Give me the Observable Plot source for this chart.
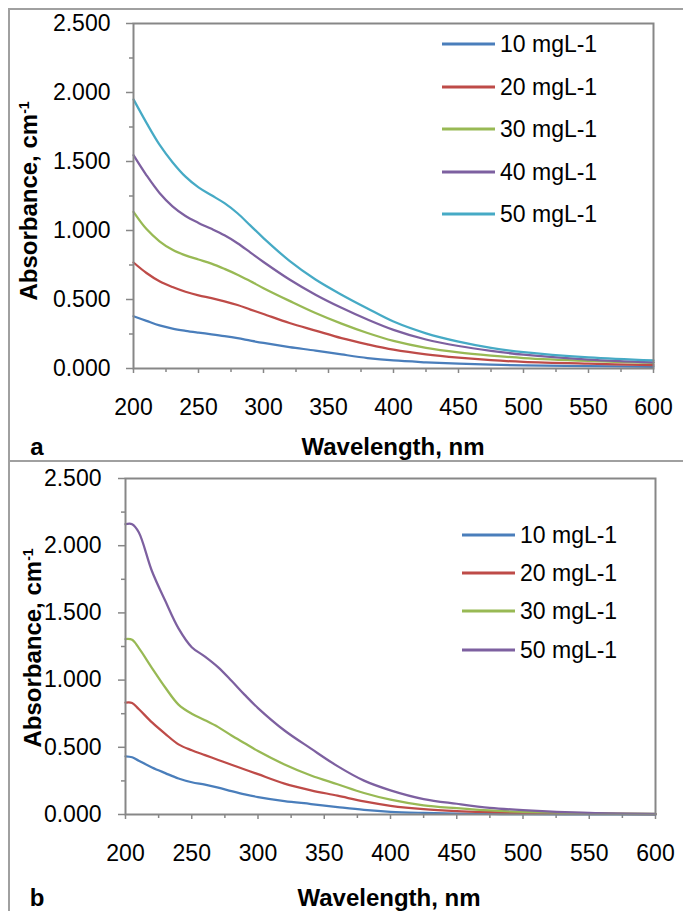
<!DOCTYPE html>
<html><head><meta charset="utf-8">
<script src="https://cdn.jsdelivr.net/npm/d3@7"></script>
<script src="https://cdn.jsdelivr.net/npm/@observablehq/plot@0.6"></script>
<style>
body{margin:0;background:#fff;font-family:"Liberation Sans",Arial,sans-serif;}
#root{position:relative;width:683px;height:911px;overflow:hidden;background:#fff;}
.hline{position:absolute;height:0;border-top:2px solid #a0a0a0;}
.vline{position:absolute;width:0;border-left:2px solid #a0a0a0;}
.leg{position:absolute;display:flex;align-items:center;font-size:23px;color:#000;white-space:nowrap;transform:translateY(-50%);}
.leg span.sw{display:inline-block;height:3px;margin-right:5px;}
.ytitle{position:absolute;font-weight:bold;font-size:24px;white-space:nowrap;transform:translate(-50%,-50%) rotate(-90deg);}
.ytitle sup{font-size:14px;vertical-align:0.6em;line-height:0;}
.xtitle{position:absolute;font-weight:bold;font-size:24px;white-space:nowrap;transform:translate(-50%,-50%);}
</style></head><body><div id="root"></div>
<script>
// ---- data ----
const seriesLabelsA = ["10 mgL-1", "20 mgL-1", "30 mgL-1", "40 mgL-1", "50 mgL-1"];
const wavelengthsA = [200, 210, 220, 230, 240, 250, 260, 270, 280, 290, 300, 320, 340, 360, 380, 400, 425, 450, 475, 500, 550, 600];
const absA10 = [0.379, 0.345, 0.312, 0.289, 0.273, 0.260, 0.248, 0.235, 0.220, 0.202, 0.185, 0.155, 0.130, 0.102, 0.076, 0.058, 0.045, 0.035, 0.028, 0.023, 0.017, 0.012];
const absA20 = [0.768, 0.692, 0.632, 0.590, 0.556, 0.530, 0.510, 0.487, 0.460, 0.427, 0.395, 0.330, 0.275, 0.220, 0.175, 0.136, 0.102, 0.078, 0.060, 0.048, 0.035, 0.025];
const absA30 = [1.135, 1.010, 0.922, 0.860, 0.820, 0.790, 0.760, 0.722, 0.680, 0.632, 0.582, 0.490, 0.402, 0.325, 0.257, 0.200, 0.150, 0.117, 0.094, 0.076, 0.055, 0.041];
const absA40 = [1.546, 1.400, 1.272, 1.175, 1.105, 1.055, 1.012, 0.965, 0.908, 0.840, 0.772, 0.645, 0.535, 0.440, 0.355, 0.280, 0.210, 0.163, 0.128, 0.100, 0.065, 0.045];
const absA50 = [1.950, 1.780, 1.622, 1.495, 1.390, 1.312, 1.255, 1.198, 1.125, 1.035, 0.945, 0.780, 0.645, 0.535, 0.435, 0.340, 0.255, 0.195, 0.150, 0.118, 0.080, 0.058];

const seriesLabelsB = ["10 mgL-1", "20 mgL-1", "30 mgL-1", "50 mgL-1"];
const wavelengthsB = [200, 205, 210, 220, 230, 240, 250, 260, 270, 280, 290, 300, 320, 340, 360, 380, 400, 425, 450, 475, 500, 550, 600];
const absB10 = [0.433, 0.426, 0.400, 0.350, 0.308, 0.268, 0.240, 0.222, 0.200, 0.174, 0.150, 0.130, 0.100, 0.078, 0.055, 0.034, 0.020, 0.012, 0.007, 0.004, 0.003, 0.001, 0.000];
const absB20 = [0.832, 0.830, 0.785, 0.685, 0.600, 0.522, 0.478, 0.442, 0.406, 0.370, 0.335, 0.300, 0.230, 0.180, 0.140, 0.097, 0.065, 0.040, 0.026, 0.018, 0.012, 0.006, 0.003];
const absB30 = [1.305, 1.300, 1.240, 1.090, 0.945, 0.818, 0.750, 0.702, 0.650, 0.588, 0.530, 0.472, 0.372, 0.290, 0.225, 0.160, 0.110, 0.068, 0.047, 0.030, 0.020, 0.010, 0.004];
const absB50 = [2.160, 2.160, 2.100, 1.810, 1.590, 1.385, 1.245, 1.175, 1.095, 0.995, 0.890, 0.792, 0.625, 0.490, 0.360, 0.252, 0.180, 0.115, 0.080, 0.050, 0.033, 0.012, 0.005];

const xTicks = [200, 250, 300, 350, 400, 450, 500, 550, 600];
const xMinorTicks = [225, 275, 325, 375, 425, 475, 525, 575];
const yTicks = [0, 0.5, 1.0, 1.5, 2.0, 2.5];
const yMinorTicks = [0.25, 0.75, 1.25, 1.75, 2.25];
const xTitle = "Wavelength, nm";
const yTitle = "Absorbance, cm";
const yTitleSup = "-1";
const panelLetters = ["a", "b"];

// ---- styles ----
const colorsA = ["#4A7EBB", "#BE4B48", "#98B954", "#7D60A0", "#46AAC5"];
const colorsB = ["#4A7EBB", "#BE4B48", "#98B954", "#7D60A0"];
const axisGray = "#878787";
const FONT = "'Liberation Sans', Arial, sans-serif";

const root = document.getElementById("root");

function makePanel(cfg) {
  const data = cfg.series.flatMap((vals, i) => vals.map((v, j) => ({nm: cfg.wl[j], a: v, s: cfg.labels[i]})));
  const chart = Plot.plot({
    width: 683, height: cfg.height,
    marginLeft: cfg.ml, marginRight: cfg.mr, marginTop: cfg.mt, marginBottom: cfg.mb,
    style: {fontFamily: FONT, fontSize: "23px", color: "#000", background: "transparent", overflow: "visible"},
    x: {domain: [200, 600]},
    y: {domain: [0, 2.5]},
    color: {domain: cfg.labels, range: cfg.colors},
    marks: [
      Plot.axisX({ticks: xMinorTicks, tickSize: 4, tickFormat: () => "", stroke: axisGray, strokeWidth: 1.5, label: null}),
      Plot.axisX({ticks: xTicks, tickSize: 5, tickPadding: 25, stroke: axisGray, strokeWidth: 1.5, fill: "#000", fontSize: 23, label: null, tickFormat: d3.format("d")}),
      Plot.axisY({ticks: yMinorTicks, tickSize: 4, tickFormat: () => "", stroke: axisGray, strokeWidth: 1.5, label: null}),
      Plot.axisY({ticks: yTicks, tickSize: 7, tickPadding: cfg.yPad, stroke: axisGray, strokeWidth: 1.5, fill: "#000", fontSize: 23, label: null, tickFormat: d3.format(".3f")}),
      Plot.line(data, {x: "nm", y: "a", stroke: "s", strokeWidth: 2.25, curve: "catmull-rom"}),
      Plot.frame({stroke: axisGray, strokeWidth: 2})
    ]
  });
  chart.style.position = "absolute";
  chart.style.left = "0px";
  chart.style.top = cfg.top + "px";
  root.appendChild(chart);

  // legend
  cfg.labels.forEach((lab, i) => {
    const d = document.createElement("div");
    d.className = "leg";
    d.style.left = cfg.legX + "px";
    d.style.top = (cfg.legY + i * cfg.legStep) + "px";
    const sw = document.createElement("span");
    sw.className = "sw";
    sw.style.width = cfg.legW + "px";
    sw.style.background = cfg.colors[i];
    d.appendChild(sw);
    d.appendChild(document.createTextNode(lab));
    root.appendChild(d);
  });

  // y title
  const yt = document.createElement("div");
  yt.className = "ytitle";
  yt.style.left = cfg.ytX + "px";
  yt.style.top = cfg.ytY + "px";
  yt.innerHTML = yTitle + "<sup>" + yTitleSup + "</sup>";
  root.appendChild(yt);

  // x title
  const xt = document.createElement("div");
  xt.className = "xtitle";
  xt.style.left = cfg.xtX + "px";
  xt.style.top = cfg.xtY + "px";
  xt.textContent = xTitle;
  root.appendChild(xt);

  // panel letter
  const pl = document.createElement("div");
  pl.className = "xtitle";
  pl.style.left = "37px";
  pl.style.top = cfg.xtY + "px";
  pl.textContent = cfg.letter;
  root.appendChild(pl);
}

makePanel({
  wl: wavelengthsA, series: [absA10, absA20, absA30, absA40, absA50], labels: seriesLabelsA, colors: colorsA,
  top: 0, height: 460, ml: 133, mr: 30, mt: 23, mb: 92, yPad: 16,
  legX: 442, legY: 44, legStep: 42.5, legW: 53,
  ytX: 29, ytY: 201, xtX: 393, xtY: 447, letter: panelLetters[0]
});
makePanel({
  wl: wavelengthsB, series: [absB10, absB20, absB30, absB50], labels: seriesLabelsB, colors: colorsB,
  top: 460, height: 451, ml: 125, mr: 28, mt: 18, mb: 97, yPad: 17,
  legX: 462, legY: 535, legStep: 38.2, legW: 53,
  ytX: 33, ytY: 648, xtX: 389, xtY: 898, letter: panelLetters[1]
});

// outer frame lines
function line(cls, css) { const e = document.createElement("div"); e.className = cls; Object.assign(e.style, css); root.appendChild(e); }
line("hline", {left: "8px", top: "8px", width: "680px"});
line("vline", {left: "8px", top: "8px", height: "910px"});
line("hline", {left: "8px", top: "460px", width: "680px"});
</script></body></html>
